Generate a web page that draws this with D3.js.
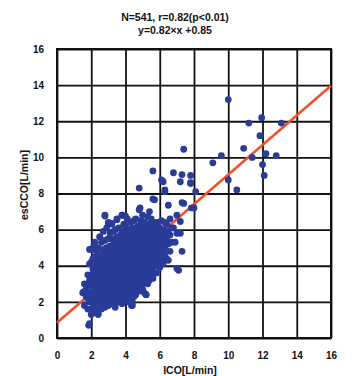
<!DOCTYPE html>
<html>
<head>
<meta charset="utf-8">
<script src="https://cdn.jsdelivr.net/npm/d3@7"></script>
<style>
  body { margin: 0; background: #fff; }
  svg text { font-family: "Liberation Sans", Arial, sans-serif; font-weight: bold; fill: #111; }
</style>
</head>
<body>
<svg id="chart" width="356" height="376"></svg>
<script>
// chart values
const titleLines = ["N=541, r=0.82(p<0.01)", "y=0.82\u00d7x +0.85"];
const xTicks = [0, 2, 4, 6, 8, 10, 12, 14, 16];
const yTicks = [0, 2, 4, 6, 8, 10, 12, 14, 16];
const xTitle = "ICO[L/min]";
const yTitle = "esCCO[L/min]";
const slope = 0.82, intercept = 0.85;

// [ICO, esCCO] pairs, dense cloud then the scattered ones
const cloud = [
  [1.6,1.8],[1.5,2.5],[1.7,2.3],[1.6,3.0],[1.7,2.7],[1.9,0.8],
  [1.8,1.6],[1.9,2.0],[1.8,2.2],[1.9,2.5],[1.8,2.9],[1.9,3.2],[1.8,3.5],[1.9,4.1],[1.9,4.9],
  [2.0,1.3],[2.1,1.7],[2.0,2.0],[2.1,2.3],[2.0,2.5],[2.1,2.7],[2.0,3.0],[2.1,3.2],[2.0,3.5],[2.1,3.8],[2.0,4.2],[2.1,4.4],[2.1,5.0],
  [2.2,1.4],[2.3,1.6],[2.2,1.9],[2.3,2.1],[2.2,2.3],[2.3,2.5],[2.2,2.7],[2.3,2.9],[2.2,3.1],[2.3,3.3],[2.2,3.5],[2.3,3.7],[2.2,3.9],[2.3,4.2],[2.2,4.5],[2.3,4.8],[2.2,5.3],
  [2.4,1.3],[2.5,1.6],[2.4,1.8],[2.5,2.0],[2.4,2.2],[2.5,2.4],[2.4,2.6],[2.5,2.8],[2.4,3.0],[2.5,3.2],[2.4,3.4],[2.5,3.6],[2.4,3.8],[2.5,4.0],[2.4,4.3],[2.5,4.6],[2.4,5.0],[2.5,5.6],
  [2.6,1.6],[2.7,1.9],[2.6,2.1],[2.7,2.3],[2.6,2.5],[2.7,2.7],[2.6,2.9],[2.7,3.1],[2.6,3.3],[2.7,3.5],[2.6,3.7],[2.7,3.9],[2.6,4.1],[2.7,4.3],[2.6,4.6],[2.7,4.9],[2.6,5.3],[2.7,5.9],
  [2.8,1.7],[2.9,2.0],[2.8,2.2],[2.9,2.4],[2.8,2.6],[2.9,2.8],[2.8,3.0],[2.9,3.2],[2.8,3.4],[2.9,3.6],[2.8,3.8],[2.9,4.0],[2.8,4.2],[2.9,4.4],[2.8,4.7],[2.9,5.0],[2.8,5.4],[2.9,6.1],[2.8,6.8],
  [3.0,1.8],[3.1,2.1],[3.0,2.3],[3.1,2.5],[3.0,2.7],[3.1,2.9],[3.0,3.1],[3.1,3.3],[3.0,3.5],[3.1,3.7],[3.0,3.9],[3.1,4.1],[3.0,4.3],[3.1,4.5],[3.0,4.8],[3.1,5.1],[3.0,5.5],[3.1,5.8],[3.0,6.4],
  [3.2,1.9],[3.3,2.2],[3.2,2.4],[3.3,2.6],[3.2,2.8],[3.3,3.0],[3.2,3.2],[3.3,3.4],[3.2,3.6],[3.3,3.8],[3.2,4.0],[3.3,4.2],[3.2,4.4],[3.3,4.6],[3.2,4.9],[3.3,5.2],[3.2,5.5],[3.3,5.9],[3.2,6.3],
  [3.4,1.7],[3.5,2.0],[3.4,2.3],[3.5,2.5],[3.4,2.7],[3.5,2.9],[3.4,3.1],[3.5,3.3],[3.4,3.5],[3.5,3.7],[3.4,3.9],[3.5,4.1],[3.4,4.3],[3.5,4.5],[3.4,4.7],[3.5,5.0],[3.4,5.3],[3.5,5.6],[3.4,6.0],[3.5,6.6],
  [3.6,2.0],[3.7,2.3],[3.6,2.5],[3.7,2.7],[3.6,2.9],[3.7,3.1],[3.6,3.3],[3.7,3.5],[3.6,3.7],[3.7,3.9],[3.6,4.1],[3.7,4.3],[3.6,4.5],[3.7,4.7],[3.6,4.9],[3.7,5.1],[3.6,5.4],[3.7,5.7],[3.6,6.1],
  [3.8,1.9],[3.9,2.2],[3.8,2.5],[3.9,2.7],[3.8,2.9],[3.9,3.1],[3.8,3.3],[3.9,3.5],[3.8,3.7],[3.9,3.9],[3.8,4.1],[3.9,4.3],[3.8,4.5],[3.9,4.7],[3.8,4.9],[3.9,5.1],[3.8,5.3],[3.9,5.6],[3.8,5.9],[3.9,6.3],[3.8,6.8],
  [4.0,2.1],[4.1,2.4],[4.0,2.6],[4.1,2.8],[4.0,3.0],[4.1,3.2],[4.0,3.4],[4.1,3.6],[4.0,3.8],[4.1,4.0],[4.0,4.2],[4.1,4.4],[4.0,4.6],[4.1,4.8],[4.0,5.0],[4.1,5.2],[4.0,5.5],[4.1,5.8],[4.0,6.2],[4.1,6.6],
  [4.2,2.0],[4.3,2.3],[4.2,2.6],[4.3,2.8],[4.2,3.0],[4.3,3.2],[4.2,3.4],[4.3,3.6],[4.2,3.8],[4.3,4.0],[4.2,4.2],[4.3,4.4],[4.2,4.6],[4.3,4.8],[4.2,5.0],[4.3,5.2],[4.2,5.4],[4.3,5.7],[4.2,6.0],[4.3,6.4],
  [4.4,1.8],[4.5,2.3],[4.4,2.6],[4.5,2.8],[4.4,3.0],[4.5,3.2],[4.4,3.4],[4.5,3.6],[4.4,3.8],[4.5,4.0],[4.4,4.2],[4.5,4.4],[4.4,4.6],[4.5,4.8],[4.4,5.0],[4.5,5.2],[4.4,5.5],[4.5,5.8],[4.4,6.1],[4.5,6.5],
  [4.6,2.4],[4.7,2.7],[4.6,2.9],[4.7,3.1],[4.6,3.3],[4.7,3.5],[4.6,3.7],[4.7,3.9],[4.6,4.1],[4.7,4.3],[4.6,4.5],[4.7,4.7],[4.6,4.9],[4.7,5.1],[4.6,5.3],[4.7,5.6],[4.6,5.9],[4.7,6.2],[4.6,6.6],
  [4.8,2.6],[4.9,2.9],[4.8,3.1],[4.9,3.3],[4.8,3.5],[4.9,3.7],[4.8,3.9],[4.9,4.1],[4.8,4.3],[4.9,4.5],[4.8,4.7],[4.9,4.9],[4.8,5.1],[4.9,5.3],[4.8,5.6],[4.9,5.9],[4.8,6.2],[4.9,6.5],
  [5.0,2.7],[5.1,2.5],[5.0,3.0],[5.1,3.3],[5.0,3.5],[5.1,3.7],[5.0,3.9],[5.1,4.1],[5.0,4.3],[5.1,4.5],[5.0,4.7],[5.1,4.9],[5.0,5.1],[5.1,5.3],[5.0,5.5],[5.1,5.8],[5.0,6.1],[5.1,6.4],[5.0,6.8],
  [5.2,2.4],[5.3,3.0],[5.2,3.3],[5.3,3.5],[5.2,3.7],[5.3,3.9],[5.2,4.1],[5.3,4.3],[5.2,4.5],[5.3,4.7],[5.2,4.9],[5.3,5.1],[5.2,5.3],[5.3,5.5],[5.2,5.7],[5.3,6.0],[5.2,6.3],[5.3,6.7],
  [5.4,3.2],[5.5,3.5],[5.4,3.7],[5.5,3.9],[5.4,4.1],[5.5,4.3],[5.4,4.5],[5.5,4.7],[5.4,4.9],[5.5,5.1],[5.4,5.3],[5.5,5.5],[5.4,5.7],[5.5,6.0],[5.4,6.3],[5.5,6.6],[5.4,7.0],
  [5.6,3.3],[5.7,3.6],[5.6,3.9],[5.7,4.1],[5.6,4.3],[5.7,4.5],[5.6,4.7],[5.7,4.9],[5.6,5.1],[5.7,5.3],[5.6,5.5],[5.7,5.8],[5.6,6.1],[5.7,6.4],
  [5.8,3.6],[5.9,4.0],[5.8,4.3],[5.9,4.5],[5.8,4.7],[5.9,4.9],[5.8,5.1],[5.9,5.3],[5.8,5.5],[5.9,5.8],[5.8,6.1],[5.9,6.4],
  [6.0,3.9],[6.1,4.2],[6.0,4.5],[6.1,4.8],[6.0,5.0],[6.1,5.2],[6.0,5.5],[6.1,5.8],[6.0,6.1],[6.1,6.5],
  [6.2,4.1],[6.3,4.5],[6.2,4.8],[6.3,5.1],[6.2,5.4],[6.3,5.7],[6.2,6.0],[6.3,6.4],
  [6.4,4.4],[6.5,4.3],[6.4,4.8],[6.5,5.2],[6.4,5.5],[6.5,5.9],[6.4,6.3],
  [6.6,4.8],[6.7,5.3],[6.6,5.7],[6.7,6.1],[6.6,6.6],[6.8,6.1],[6.9,5.3]
];

const scattered = [
  [1.55,2.55],[1.85,0.7],[2.4,1.35],[2.5,5.6],[2.8,6.75],[3.0,6.35],[3.2,6.35],[3.5,6.55],[4.0,6.75],[3.8,6.8],
  [4.35,1.8],[4.4,2.0],[4.8,7.1],[4.85,7.2],[4.8,8.3],[5.2,2.4],[5.6,7.7],[5.7,7.65],[5.6,9.25],[6.1,8.75],
  [6.2,8.65],[6.3,8.2],[6.3,8.1],[6.5,7.35],[6.8,9.15],[7.0,3.85],[7.1,3.75],[7.0,5.8],[7.0,6.8],[7.3,4.8],
  [7.2,5.8],[7.2,6.45],[7.2,8.65],[7.3,9.05],[7.3,7.5],[7.4,7.45],[7.4,10.45],[7.8,9.0],[7.8,8.55],[7.85,7.2],
  [8.0,7.2],[7.8,8.6],[8.1,8.1],[9.1,9.7],[9.6,10.1],[10.0,13.2],[10.0,8.75],[10.5,8.2],[10.9,10.5],[11.2,11.9],
  [11.4,10.0],[11.85,11.2],[11.95,12.2],[12.0,9.6],[12.1,9.0],[12.2,10.2],[12.8,10.1],[13.1,11.9]
];

const svg = d3.select("#chart");
const x = d3.scaleLinear().domain([0, 16]).range([57, 331]);
const y = d3.scaleLinear().domain([0, 16]).range([338, 49]);

// grid + tick labels
const gx = svg.append("g")
  .attr("transform", "translate(0," + y(0) + ")")
  .call(d3.axisBottom(x).tickValues(xTicks).tickSize(-(y(0) - y(16))).tickPadding(14));
const gy = svg.append("g")
  .attr("transform", "translate(" + x(0) + ",0)")
  .call(d3.axisLeft(y).tickValues(yTicks).tickSize(-(x(16) - x(0))).tickPadding(13));
[gx, gy].forEach(g => {
  g.select(".domain").remove();
  g.selectAll("line").attr("stroke", "#111").attr("stroke-width", 1.8);
  g.selectAll("text").attr("font-size", 10).style("font-weight", "bold");
});

svg.append("rect")
  .attr("x", x(0)).attr("y", y(16))
  .attr("width", x(16) - x(0)).attr("height", y(0) - y(16))
  .attr("fill", "none").attr("stroke", "#111").attr("stroke-width", 2);

// regression line
svg.append("line")
  .attr("x1", x(0)).attr("y1", y(intercept))
  .attr("x2", x(16)).attr("y2", y(slope * 16 + intercept))
  .attr("stroke", "#f0522a").attr("stroke-width", 2.6);

// points
svg.append("g").selectAll("circle")
  .data(cloud.concat(scattered))
  .enter()
  .append("circle")
  .attr("cx", d => x(d[0]))
  .attr("cy", d => y(d[1]))
  .attr("r", 3.4)
  .attr("fill", "#2a3c98");

// titles
svg.selectAll(".title")
  .data(titleLines)
  .enter()
  .append("text")
  .attr("x", 175)
  .attr("y", (d, i) => 21 + i * 13)
  .attr("text-anchor", "middle")
  .attr("font-size", 10.5)
  .text(d => d);

svg.append("text")
  .attr("x", 190).attr("y", 374)
  .attr("text-anchor", "middle")
  .attr("font-size", 10.5)
  .text(xTitle);

svg.append("text")
  .attr("transform", "translate(28,185) rotate(-90)")
  .attr("text-anchor", "middle")
  .attr("font-size", 10.5)
  .text(yTitle);
</script>
</body>
</html>
